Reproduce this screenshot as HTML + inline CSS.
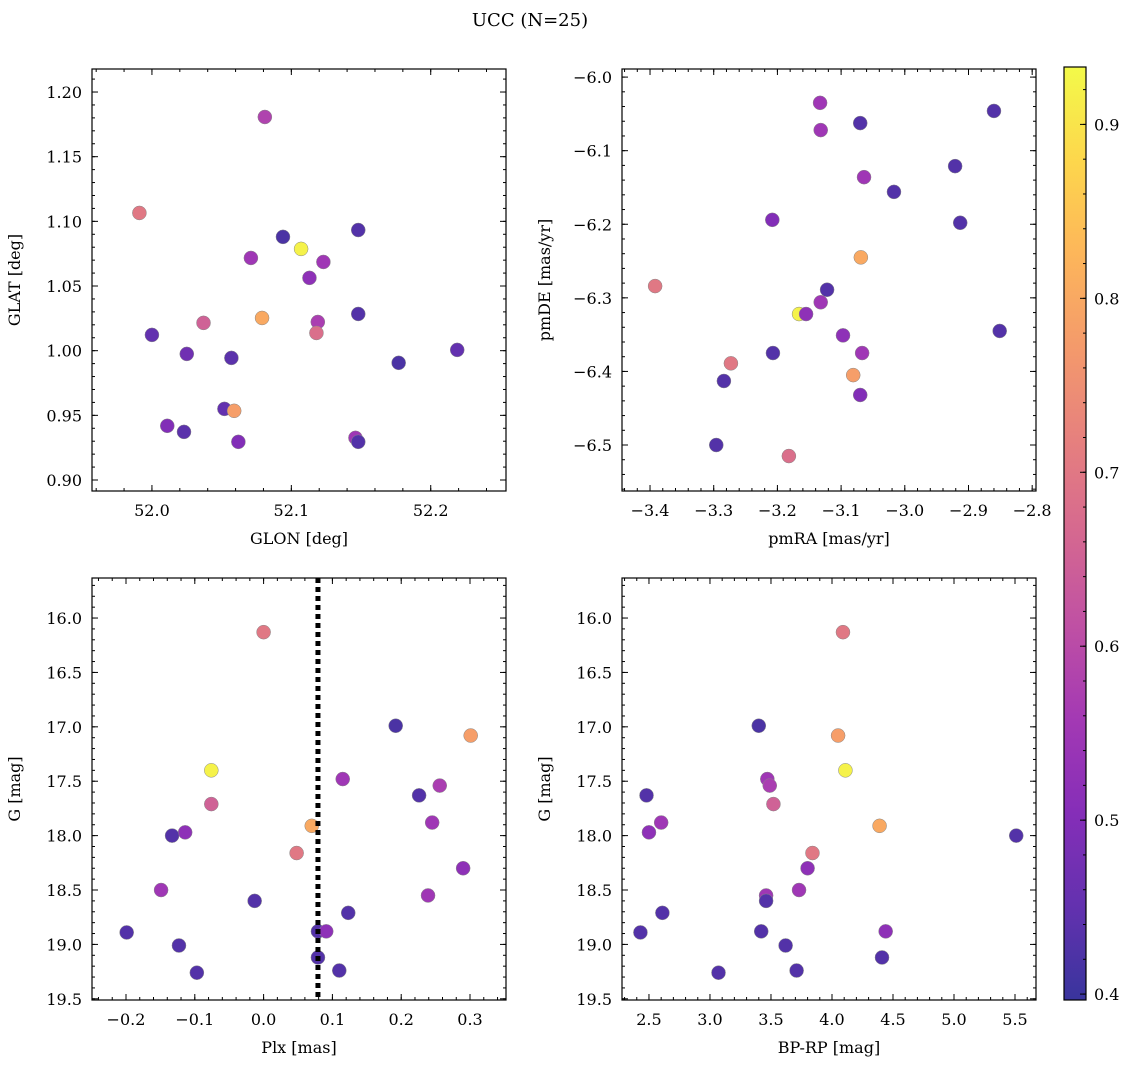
<!DOCTYPE html>
<html><head><meta charset="utf-8">
<style>
html,body{margin:0;padding:0;background:#fff;}
svg{display:block;font-family:"DejaVu Serif","Liberation Serif",serif;}
</style></head>
<body>
<svg id="chart" width="1136" height="1068" viewBox="0 0 1136 1068" xmlns="http://www.w3.org/2000/svg">
<text x="530" y="26" text-anchor="middle" font-size="18">UCC (N=25)</text>
</svg>
<script>
// ---- data ----
const glon = [52.081,51.991,52.094,52.107,52.148,52.071,52.123,52.113,52.079,52.037,52.119,52.118,52.148,52.000,52.025,52.057,52.177,52.219,52.052,52.059,52.011,52.023,52.062,52.146,52.148];
const glat = [1.1807,1.1065,1.088,1.0787,1.0933,1.0717,1.0686,1.0563,1.0253,1.0215,1.0222,1.0137,1.0284,1.0122,0.9975,0.9944,0.9906,1.0006,0.955,0.9535,0.9419,0.9372,0.9295,0.9326,0.9295];
const probPos = [0.58,0.70,0.42,0.92,0.43,0.55,0.55,0.52,0.80,0.65,0.57,0.68,0.43,0.45,0.47,0.44,0.42,0.45,0.45,0.78,0.50,0.44,0.50,0.55,0.43];

const pmra = [-3.133,-3.132,-3.070,-2.860,-3.064,-3.017,-2.921,-2.913,-3.208,-3.069,-3.392,-3.122,-3.132,-3.166,-3.155,-2.851,-3.097,-3.207,-3.067,-3.273,-3.081,-3.284,-3.070,-3.296,-3.182];
const pmde = [-6.035,-6.072,-6.0625,-6.046,-6.136,-6.156,-6.121,-6.198,-6.194,-6.245,-6.284,-6.289,-6.306,-6.322,-6.322,-6.345,-6.351,-6.375,-6.375,-6.389,-6.405,-6.413,-6.432,-6.5,-6.515];
const probPm = [0.55,0.55,0.43,0.43,0.55,0.43,0.43,0.43,0.50,0.80,0.70,0.43,0.55,0.92,0.52,0.43,0.52,0.43,0.55,0.70,0.78,0.43,0.50,0.43,0.68];

const plx = [0.000,0.192,0.301,-0.076,0.115,0.256,0.226,-0.076,0.245,-0.114,-0.133,0.070,0.048,0.290,-0.149,0.239,-0.013,0.123,-0.199,0.079,0.091,-0.123,0.079,-0.097,0.110];
const bprp = [4.09,3.40,4.05,4.11,3.47,3.49,2.48,3.52,2.60,2.50,5.51,4.39,3.84,3.80,3.73,3.46,3.46,2.61,2.43,3.42,4.44,3.62,4.41,3.07,3.71];
const gmag = [16.13,16.99,17.08,17.40,17.48,17.54,17.63,17.71,17.88,17.97,18.00,17.91,18.16,18.30,18.50,18.55,18.60,18.71,18.89,18.88,18.88,19.01,19.12,19.26,19.24];
const probCmd = [0.70,0.42,0.78,0.92,0.55,0.57,0.43,0.65,0.55,0.52,0.43,0.80,0.70,0.52,0.55,0.55,0.43,0.43,0.43,0.43,0.52,0.43,0.43,0.43,0.43];
const plxLine = [0.079];

const ticksGlon=[52.0,52.1,52.2], ticksGlat=[0.90,0.95,1.00,1.05,1.10,1.15,1.20];
const ticksPmra=[-3.4,-3.3,-3.2,-3.1,-3.0,-2.9,-2.8], ticksPmde=[-6.5,-6.4,-6.3,-6.2,-6.1,-6.0];
const ticksPlx=[-0.2,-0.1,0.0,0.1,0.2,0.3], ticksG=[16.0,16.5,17.0,17.5,18.0,18.5,19.0,19.5];
const ticksBprp=[2.5,3.0,3.5,4.0,4.5,5.0,5.5], ticksCb=[0.4,0.5,0.6,0.7,0.8,0.9];

const NS="http://www.w3.org/2000/svg";
const svg=document.getElementById('chart');
function mk(tag,attrs,parent){const e=document.createElementNS(NS,tag);for(const k in attrs)e.setAttribute(k,attrs[k]);(parent||svg).appendChild(e);return e;}

const plasma=[[13,8,135],[65,4,157],[106,0,168],[143,13,164],[177,42,144],[204,71,120],[225,100,98],[242,132,75],[252,166,54],[252,206,37],[240,249,33]];
const VMIN=0.3966, VMAX=0.933;
function cmap(v){let t=(v-VMIN)/(VMAX-VMIN);t=Math.max(0,Math.min(1,t));const f=t*10,i=Math.min(9,Math.floor(f)),r=f-i;
 const c=plasma[i].map((a,j)=>a+(plasma[i+1][j]-a)*r).map(a=>Math.round(a*0.82+255*0.18));return `rgb(${c[0]},${c[1]},${c[2]})`;}

function fmt(v,d){let s=v.toFixed(d);if(s.startsWith('-'))s='\u2212'+s.slice(1);if(s==='\u22120.0'||s==='\u22120.00')s=s.slice(1);return s;}

function panel(name,px0,px1,py0,py1,xd,yd,invY,xt,yt,xdec,ydec,xminor,yminor,xlabel,ylabel,xs,ys,cs){
 const g=mk('g',{});
 
 
 const sx=v=>px0+(v-xd[0])/(xd[1]-xd[0])*(px1-px0);
 const sy=invY?(v=>py0+(v-yd[0])/(yd[1]-yd[0])*(py1-py0)):(v=>py1-(v-yd[0])/(yd[1]-yd[0])*(py1-py0));
 for(let i=0;i<xs.length;i++){
  const c=mk('circle',{cx:sx(xs[i]),cy:sy(ys[i]),r:7,fill:cmap(cs[i]),stroke:'#888','stroke-width':0.5},g);
  
  
 }
 const fr=mk('rect',{x:px0,y:py0,width:px1-px0,height:py1-py0,fill:'none',stroke:'#000','stroke-width':1.2},g);
 
 
 const lo=Math.min(xd[0],xd[1]),hi=Math.max(xd[0],xd[1]);
 for(let v=Math.ceil(lo/xminor)*xminor;v<=hi+1e-9;v+=xminor){const x=sx(v);mk('line',{x1:x,x2:x,y1:py1,y2:py1-3,stroke:'#000'},g);mk('line',{x1:x,x2:x,y1:py0,y2:py0+3,stroke:'#000'},g);}
 const ylo=Math.min(yd[0],yd[1]),yhi=Math.max(yd[0],yd[1]);
 for(let v=Math.ceil(ylo/yminor)*yminor;v<=yhi+1e-9;v+=yminor){const y=sy(v);mk('line',{x1:px0,x2:px0+3,y1:y,y2:y,stroke:'#000'},g);mk('line',{x1:px1,x2:px1-3,y1:y,y2:y,stroke:'#000'},g);}
 xt.forEach(v=>{const x=sx(v);mk('line',{x1:x,x2:x,y1:py1,y2:py1-6,stroke:'#000'},g);mk('line',{x1:x,x2:x,y1:py0,y2:py0+6,stroke:'#000'},g);
  const t=mk('text',{x:x,y:py1+25,'text-anchor':'middle','font-size':16},g);t.textContent=fmt(v,xdec);
  
  });
 yt.forEach(v=>{const y=sy(v);mk('line',{x1:px0,x2:px0+6,y1:y,y2:y,stroke:'#000'},g);mk('line',{x1:px1,x2:px1-6,y1:y,y2:y,stroke:'#000'},g);
  const t=mk('text',{x:px0-10,y:y+6,'text-anchor':'end','font-size':16},g);t.textContent=fmt(v,ydec);
  
  });
 const xl=mk('text',{x:(px0+px1)/2,y:py1+53,'text-anchor':'middle','font-size':16},g);xl.textContent=xlabel;
 
 
 const yx=px0-72,yy=(py0+py1)/2;
 const yl=mk('text',{x:yx,y:yy,'text-anchor':'middle','font-size':16,transform:`rotate(-90 ${yx} ${yy})`},g);yl.textContent=ylabel;
 
 
 return {g,sx,sy};
}

panel('glon-glat-panel',92,506,69,491,[51.957,52.254],[0.8915,1.2178],false,ticksGlon,ticksGlat,1,2,0.02,0.01,'GLON [deg]','GLAT [deg]',glon,glat,probPos);
panel('pm-panel',622,1036,69,491,[-3.444,-2.794],[-6.5625,-5.989],false,ticksPmra,ticksPmde,1,1,0.02,0.02,'pmRA [mas/yr]','pmDE [mas/yr]',pmra,pmde,probPm);
const bl=panel('plx-g-panel',92,506,578,1000,[-0.2494,0.3523],[15.632,19.511],true,ticksPlx,ticksG,1,1,0.02,0.1,'Plx [mas]','G [mag]',plx,gmag,probCmd);
plxLine.forEach(v=>{const l=mk('line',{x1:bl.sx(v),x2:bl.sx(v),y1:578,y2:1000,stroke:'#000','stroke-width':5,'stroke-dasharray':'5,4'},bl.g);
 
 });
panel('cmd-panel',622,1036,578,1000,[2.279,5.672],[15.632,19.511],true,ticksBprp,ticksG,1,1,0.1,0.1,'BP-RP [mag]','G [mag]',bprp,gmag,probCmd);

// colorbar
const cb=mk('g',{});


const defs=mk('defs',{},cb);
const grad=mk('linearGradient',{id:'cbg',x1:0,y1:1,x2:0,y2:0},defs);
for(let i=0;i<=20;i++){const v=VMIN+(VMAX-VMIN)*i/20;mk('stop',{offset:i/20,'stop-color':cmap(v)},grad);}
const cbx0=1064,cbx1=1086,cby0=67,cby1=1000;
mk('rect',{x:cbx0,y:cby0,width:cbx1-cbx0,height:cby1-cby0,fill:'url(#cbg)',stroke:'#000','stroke-width':1.2},cb);
const cy=v=>cby1-(v-VMIN)/(VMAX-VMIN)*(cby1-cby0);
for(let v=0.40;v<=VMAX;v+=0.02){mk('line',{x1:cbx1,x2:cbx1-3,y1:cy(v),y2:cy(v),stroke:'#000'},cb);}
ticksCb.forEach(v=>{const y=cy(v);mk('line',{x1:cbx1,x2:cbx1-6,y1:y,y2:y,stroke:'#000'},cb);
 const t=mk('text',{x:cbx1+8,y:y+6,'font-size':16},cb);t.textContent=v.toFixed(1);
 
 });
</script>
</body></html>
